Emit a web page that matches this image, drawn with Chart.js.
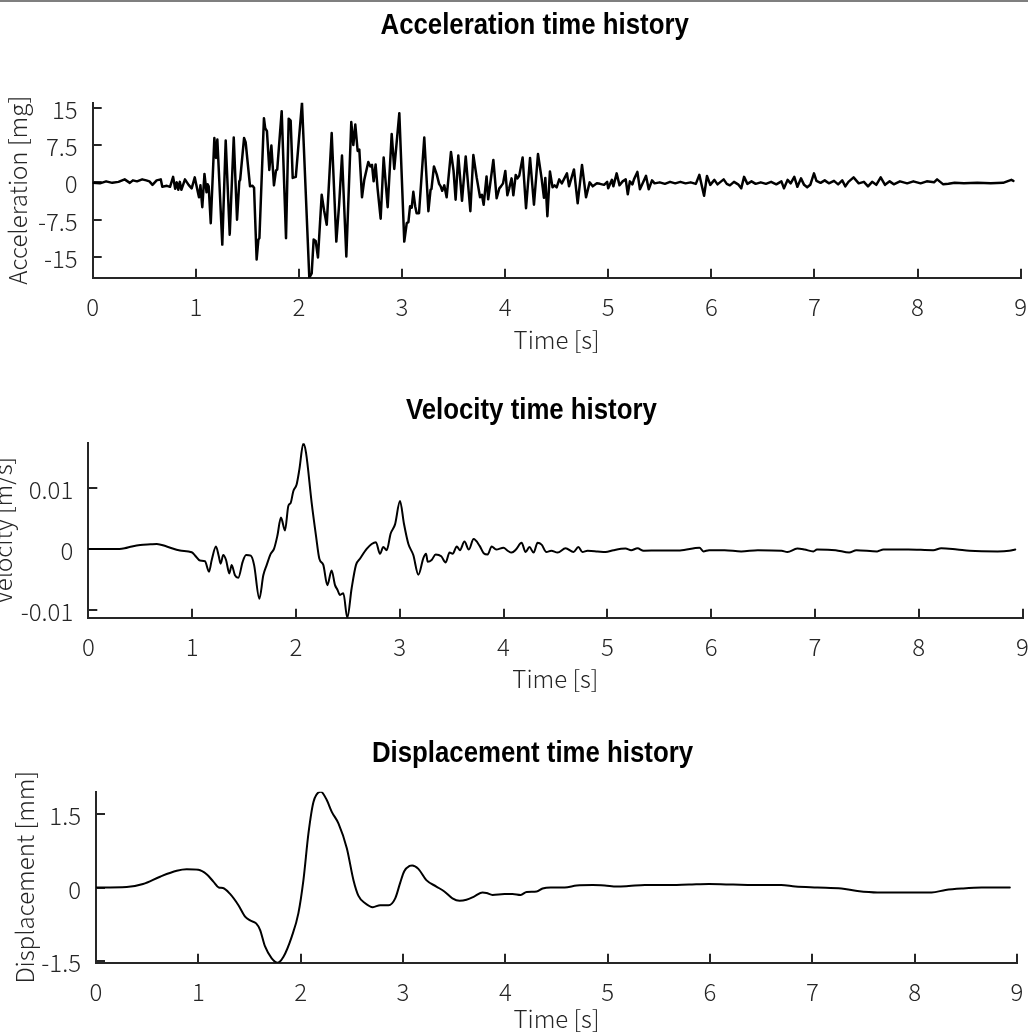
<!DOCTYPE html>
<html>
<head>
<meta charset="utf-8">
<script src="https://cdn.jsdelivr.net/npm/chart.js@4.4.1/dist/chart.umd.min.js"></script>
<style>
  html, body { margin: 0; padding: 0; background: #fff; overflow: hidden; }
  body { width: 1028px; height: 1033px; position: relative; }
  .frame-top { position: absolute; left: 0; top: 0; width: 1028px; height: 2px; background: #7f7f7f; }
  canvas { position: absolute; }
</style>
</head>
<body>
<div class="frame-top"></div>
<canvas id="acc" width="1028" height="360" style="left:0;top:0"></canvas>
<canvas id="vel" width="1040" height="340" style="left:-12px;top:360px"></canvas>
<canvas id="disp" width="1028" height="333" style="left:0;top:700px"></canvas>
<script>
// ---- Ground acceleration record [mg] ----
const accTime = [
  0.00, 0.07, 0.13, 0.19, 0.25, 0.31, 0.36, 0.39, 0.43, 0.48, 0.52, 0.55, 0.58, 0.62, 0.66, 0.675,
  0.72, 0.75, 0.78, 0.80, 0.815, 0.83, 0.845, 0.86, 0.895, 0.93, 0.96, 0.99, 1.015, 1.031, 1.045,
  1.063, 1.084, 1.104, 1.115, 1.125, 1.145, 1.18, 1.196, 1.209, 1.257, 1.29, 1.329, 1.368, 1.40,
  1.422, 1.43, 1.468, 1.484, 1.526, 1.55, 1.565, 1.59, 1.607, 1.617, 1.661, 1.673, 1.69, 1.713,
  1.733, 1.758, 1.778, 1.79, 1.833, 1.875, 1.901, 1.92, 1.94, 1.97, 2.03, 2.101, 2.124, 2.143,
  2.163, 2.185, 2.221, 2.244, 2.27, 2.318, 2.363, 2.39, 2.418, 2.46, 2.508, 2.528, 2.547, 2.57,
  2.586, 2.612, 2.634, 2.673, 2.693, 2.709, 2.725, 2.744, 2.763, 2.793, 2.822, 2.861, 2.90, 2.925,
  2.974, 3.022, 3.046, 3.062, 3.078, 3.094, 3.11, 3.128, 3.142, 3.165, 3.216, 3.256, 3.277, 3.286,
  3.31, 3.337, 3.36, 3.375, 3.39, 3.41, 3.433, 3.475, 3.50, 3.52, 3.546, 3.582, 3.618, 3.663,
  3.692, 3.724, 3.757, 3.775, 3.792, 3.82, 3.836, 3.886, 3.918, 3.944, 3.96, 3.98, 4.002, 4.022,
  4.04, 4.063, 4.08, 4.103, 4.12, 4.137, 4.17, 4.203, 4.242, 4.28, 4.319, 4.354, 4.377, 4.39,
  4.41, 4.435, 4.46, 4.48, 4.50, 4.525, 4.55, 4.60, 4.62, 4.668, 4.704, 4.746, 4.785, 4.82, 4.85,
  4.89, 4.92, 4.96, 4.99, 5.00, 5.036, 5.05, 5.082, 5.11, 5.14, 5.17, 5.19, 5.21, 5.235, 5.25,
  5.283, 5.308, 5.33, 5.367, 5.393, 5.425, 5.45, 5.50, 5.55, 5.60, 5.65, 5.70, 5.75, 5.80, 5.85,
  5.884, 5.93, 5.958, 5.99, 6.03, 6.06, 6.12, 6.15, 6.18, 6.22, 6.26, 6.29, 6.318, 6.35, 6.39,
  6.43, 6.48, 6.53, 6.58, 6.63, 6.68, 6.705, 6.74, 6.77, 6.805, 6.835, 6.87, 6.90, 6.93, 6.96,
  6.996, 7.02, 7.06, 7.10, 7.14, 7.19, 7.23, 7.27, 7.30, 7.33, 7.38, 7.43, 7.48, 7.52, 7.56, 7.60,
  7.643, 7.685, 7.73, 7.77, 7.83, 7.90, 7.96, 8.03, 8.09, 8.16, 8.19, 8.25, 8.30, 8.36, 8.45,
  8.58, 8.71, 8.83, 8.91, 8.93
];
const accValue = [
  -0.1, -0.2, 0.2, -0.1, 0.1, 0.6, -0.1, 0.4, 0.2, 0.6, 0.4, 0.2, -0.5, 0.4, 0.6, -0.9,
  -0.7, -0.9, 1.1, -1.3, 0.0, -1.5, 0.1, -1.5, 0.6, -0.5, -1.2, 1.0, -1.5, -3.0, -0.6,
  -5.0, 1.7, -2.0, -0.4, -0.8, -8.2, 8.9, 4.9, 8.6, -12.5, 8.4, -10.5, 9.0, -7.5,
  0.2, 0.5, 8.9, 8.0, -0.8, -0.7, -1.1, -15.5, -11.5, -11.2, 12.9, 10.9, 10.3, 2.5,
  7.4, -0.6, 2.4, 2.6, 14.3, -11.2, 12.8, 12.4, 0.9, 1.1, 16.0, -19.15, -18.3, -11.5,
  -11.8, -15.1, -2.5, -5.6, -8.5, 9.9, -11.9, -4.5, 5.4, -14.9, 12.1, 7.5, 11.6, 6.3,
  6.6, -3.0, 0.5, 4.1, 3.2, 3.5, 0.2, 3.6, -1.2, -7.3, 5.0, -5.0, 9.7, 2.7,
  13.9, -11.9, -8.2, -8.0, -4.8, -5.1, -1.9, -4.8, -6.2, -6.2, 9.0, -5.8, -1.5, -1.3,
  3.2, 1.6, -0.3, -0.8, -1.7, -0.6, -3.0, 6.1, 2.3, -3.5, 5.4, -3.7, 5.2, -5.8,
  5.5, 1.0, -3.0, -2.5, -4.5, 1.2, -3.4, 4.5, -3.2, -1.2, -0.8, -0.2, 2.3, -2.6,
  -1.2, 0.8, -2.6, 1.5, 0.8, 1.3, 5.0, -5.2, 4.9, -4.5, 5.7, 0.8, -3.1, 0.9,
  -6.8, 2.2, -1.0, -0.6, -1.0, 0.6, -0.2, 1.8, -0.8, 2.6, -4.2, 3.5, -3.0, 0.0, -0.8,
  -0.2, -0.3, -0.5, 0.1, -1.2, 0.5, -0.8, 1.8, -0.6, 0.2, 0.6, -2.4, 0.2, -0.4, 0.6,
  2.1, -1.4, -0.4, 1.3, -1.4, 0.4, -0.2, 0.0, -0.3, 0.1, -0.2, 0.1, -0.2, 0.0, -0.3,
  1.5, -2.7, 1.3, -0.5, 0.5, -0.4, 0.6, -0.3, -0.6, 0.1, -0.4, -1.2, 1.1, -0.3, 0.2,
  -0.3, 0.0, -0.3, 0.1, -0.4, 0.2, -1.2, 0.5, -0.2, 1.1, -0.9, 0.8, -0.5, -1.0, -0.5,
  1.8, 0.3, -0.1, 0.4, -0.2, 0.3, -0.4, 0.4, -0.8, 0.1, 1.0, -0.2, 0.1, -0.8, 0.1, -0.5,
  1.0, -0.5, 0.2, -0.4, 0.2, -0.2, 0.2, -0.2, 0.2, 0.0, 0.6, -0.4, -0.3, -0.1, -0.2,
  -0.1, -0.2, -0.1, 0.5, 0.3
];

// ---- Integrated velocity [m/s] ----
const velTime = [
  0, 0.30, 0.35, 0.42, 0.50, 0.60, 0.66, 0.755, 0.883, 0.996, 1.03, 1.076, 1.124, 1.163, 1.189, 1.23, 1.256,
  1.275, 1.30, 1.327, 1.359, 1.381, 1.413, 1.445, 1.487, 1.52, 1.565, 1.597, 1.648, 1.686, 1.719,
  1.757, 1.789, 1.821, 1.856, 1.895, 1.927, 1.95, 1.975, 2.007, 2.033, 2.072, 2.098, 2.152, 2.194,
  2.226, 2.264, 2.303, 2.344, 2.377, 2.399, 2.425, 2.457, 2.495, 2.537, 2.579, 2.617, 2.682, 2.73,
  2.771, 2.81, 2.842, 2.875, 2.913, 2.955, 3.003, 3.041, 3.083, 3.131, 3.18, 3.228, 3.254, 3.27,
  3.308, 3.347, 3.40, 3.443, 3.48, 3.51, 3.55, 3.58, 3.624, 3.666, 3.712, 3.77, 3.809, 3.847,
  3.886, 3.93, 4.00, 4.04, 4.078, 4.12, 4.174, 4.213, 4.25, 4.29, 4.328, 4.367, 4.413, 4.46,
  4.521, 4.598, 4.675, 4.721, 4.76, 4.81, 4.906, 4.983, 5.06, 5.176, 5.23, 5.291, 5.35, 5.50,
  5.70, 5.888, 5.926, 5.98, 6.13, 6.29, 6.45, 6.68, 6.735, 6.83, 6.90, 6.985, 7.02, 7.20, 7.33,
  7.40, 7.60, 7.66, 7.90, 8.14, 8.217, 8.37, 8.49, 8.76, 8.872, 8.93
];
const velValue = [
  0, 0, 0.0001, 0.0004, 0.00065, 0.00075, 0.0008, 0.0004, -0.00027, -0.00054, -0.0011, -0.0019, -0.002, -0.0037, -0.0018, 0.0004, -0.0011,
  -0.0024, -0.001, -0.0018, -0.004, -0.0026, -0.0043, -0.0047, -0.0021, -0.001, -0.0011, -0.0026, -0.0081, -0.0043, -0.0026,
  -0.0008, 0, 0.0021, 0.0051, 0.003, 0.007, 0.0075, 0.0094, 0.0105, 0.0129, 0.0172, 0.0156, 0.0075, 0.0021,
  -0.0016, -0.0026, -0.0059, -0.0035, -0.0059, -0.0066, -0.0075, -0.0072, -0.0112, -0.0064, -0.0026, -0.0016, 0, 0.0008,
  0.0011, -0.0008, 0.0003, -0.0002, 0.0025, 0.004, 0.0078, 0.0041, 0.00085, -0.001, -0.0042, -0.0015, -0.0008, -0.0021,
  -0.0018, -0.0009, -0.0012, -0.0022, -0.0006, -0.0008, 0.0004, -0.0002, 0.0012, -0.0001, 0.0016, 0.0005, -0.0007, -0.0009,
  0.0004, -0.0001, 0.0002, -0.0003, -0.0006, -0.0001, 0.001, -0.0005, 0.0003, -0.0006, 0.001, 0.0007, -0.0005, -0.0003,
  -0.0006, 0.0001, -0.0005, 0.0003, -0.0005, -0.0003, -0.0004, -0.0005, -0.0002, 0.00005, -0.0002, 0.0001, -0.0003, -0.00025,
  -0.00025, 0.0002, -0.0004, -0.0002, -0.0002, -0.0004, -0.0002, -0.0003, -0.0005, 0.00005, -0.0001, -0.0004, -0.0001, -0.0002, -0.0006,
  -0.0002, -0.0004, -0.0001, -0.0001, -0.0002, 0.0001, -0.0001, -0.0003, -0.0004, -0.0003, -0.0001
];

// ---- Integrated displacement [mm] ----
const dispTime = [
  0, 0.30, 0.46, 0.626, 0.789, 0.886, 1.0, 1.081, 1.147, 1.20, 1.24, 1.31, 1.392, 1.457, 1.506,
  1.565, 1.603, 1.652, 1.717, 1.776, 1.832, 1.913, 1.978, 2.027, 2.076, 2.125, 2.197, 2.255, 2.304,
  2.37, 2.451, 2.516, 2.565, 2.63, 2.705, 2.777, 2.859, 2.924, 2.973, 3.012, 3.064, 3.09, 3.15,
  3.228, 3.326, 3.404, 3.483, 3.553, 3.62, 3.698, 3.777, 3.816, 3.875, 3.992, 4.07, 4.15, 4.208,
  4.306, 4.364, 4.443, 4.58, 4.697, 4.854, 4.972, 5.09, 5.207, 5.364, 5.56, 5.795, 5.99, 6.226,
  6.42, 6.696, 6.833, 7.049, 7.284, 7.44, 7.636, 7.871, 8.165, 8.302, 8.459, 8.655, 8.93
];
const dispValue = [
  0, 0.01, 0.07, 0.22, 0.34, 0.37, 0.36, 0.27, 0.12, 0.0, -0.01, -0.13, -0.36, -0.59, -0.67,
  -0.73, -0.86, -1.2, -1.44, -1.53, -1.41, -1.0, -0.52, 0.15, 1.1, 1.74, 1.95, 1.78, 1.54,
  1.3, 0.8, 0.15, -0.17, -0.32, -0.40, -0.36, -0.36, -0.22, 0.1, 0.33, 0.44, 0.45, 0.38,
  0.15, 0.02, -0.08, -0.22, -0.27, -0.25, -0.18, -0.1, -0.11, -0.15, -0.13, -0.13, -0.15, -0.09,
  -0.08, -0.02, 0.0, 0.0, 0.04, 0.05, 0.04, 0.02, 0.03, 0.05, 0.05, 0.06, 0.07, 0.06,
  0.05, 0.05, 0.02, 0.0, -0.02, -0.07, -0.1, -0.1, -0.1, -0.05, -0.02, 0.0, 0.0
];

// ---- Axis ticks ----
const timeTicks = [0, 1, 2, 3, 4, 5, 6, 7, 8, 9];
const accTicks = [-15, -7.5, 0, 7.5, 15];
const velTicks = [-0.01, 0, 0.01];
const dispTicks = [-1.5, 0, 1.5];

const INK = '#262626';
const labelFont = { family: '"Noto Sans CJK JP", "Noto Sans", sans-serif', size: 24, weight: '300' };
const headingFont = 'bold 30px "Liberation Sans", Arial, sans-serif';

// Bold, condensed heading drawn above each subplot
const headingPlugin = {
  id: 'heading',
  afterDraw(chart, args, opts) {
    const ctx = chart.ctx;
    const area = chart.chartArea;
    ctx.save();
    ctx.font = headingFont;
    ctx.fillStyle = '#000';
    ctx.textAlign = 'center';
    ctx.textBaseline = 'alphabetic';
    ctx.translate((area.left + area.right) / 2 + opts.dx, opts.baseline);
    ctx.scale(0.86, 1);
    ctx.fillText(opts.text, 0, 0);
    ctx.restore();
  }
};

function tickList(values) {
  return scale => { scale.ticks = values.map(v => ({ value: v })); };
}

function makePlot(id, cfg) {
  const points = cfg.time.map((t, i) => ({ x: t, y: cfg.values[i] }));
  return new Chart(document.getElementById(id), {
    type: 'line',
    data: {
      datasets: [{
        data: points,
        borderColor: '#000',
        borderWidth: cfg.lineWidth,
        pointRadius: 0,
        fill: false,
        tension: 0,
        cubicInterpolationMode: cfg.smooth ? 'monotone' : 'default',
        borderJoinStyle: 'round',
        borderCapStyle: 'round'
      }]
    },
    options: {
      responsive: false,
      devicePixelRatio: 1,
      animation: false,
      events: [],
      layout: { padding: cfg.padding },
      plugins: {
        legend: { display: false },
        tooltip: { enabled: false },
        heading: { text: cfg.title, dx: cfg.titleDx, baseline: cfg.titleBaseline }
      },
      scales: {
        x: {
          type: 'linear',
          min: 0,
          max: 9,
          afterBuildTicks: tickList(timeTicks),
          afterFit: s => { s.height = cfg.xHeight; s.paddingLeft = 0; s.paddingRight = 0; },
          ticks: { callback: v => String(v), font: labelFont, color: INK, padding: 23.4, maxRotation: 0, autoSkip: false },
          grid: { drawOnChartArea: false, drawTicks: true, tickLength: -9, color: INK, lineWidth: 2 },
          border: { display: true, color: INK, width: 2 },
          title: { display: true, text: 'Time [s]', font: labelFont, color: INK, padding: { top: 0, bottom: cfg.xTitlePad } }
        },
        y: {
          type: 'linear',
          position: 'left',
          min: cfg.yMin,
          max: cfg.yMax,
          afterBuildTicks: tickList(cfg.yTicks),
          afterFit: s => { s.width = cfg.yWidth; s.paddingTop = 0; s.paddingBottom = 0; },
          ticks: { callback: v => String(v), font: labelFont, color: INK, padding: 24, labelOffset: 2, autoSkip: false },
          grid: { drawOnChartArea: false, drawTicks: true, tickLength: -9, color: INK, lineWidth: 2 },
          border: { display: true, color: INK, width: 2 },
          title: { display: true, text: cfg.yTitle, font: labelFont, color: INK, padding: { top: cfg.yTitlePad, bottom: 0 } }
        }
      }
    },
    plugins: [headingPlugin]
  });
}

makePlot('acc', {
  time: accTime, values: accValue, yMin: -19.15, yMax: 16.0, yTicks: accTicks,
  yTitle: 'Acceleration [mg]', title: 'Acceleration time history', titleDx: -22, titleBaseline: 34,
  padding: { top: 102.7, right: 7.4, bottom: 0, left: 0 }, yWidth: 92.7, xHeight: 82.3,
  xTitlePad: 5.6, yTitlePad: 3.1, lineWidth: 2.5, smooth: false
});

makePlot('vel', {
  time: velTime, values: velValue, yMin: -0.0112, yMax: 0.0172, yTicks: velTicks,
  yTitle: 'Velocity [m/s]', title: 'Velocity time history', titleDx: -24, titleBaseline: 59,
  padding: { top: 83.3, right: 5.5, bottom: 0, left: 0 }, yWidth: 100.3, xHeight: 82.3,
  xTitlePad: 6.6, yTitlePad: 0.6, lineWidth: 2, smooth: true
});

makePlot('disp', {
  time: dispTime, values: dispValue, yMin: -1.53, yMax: 1.95, yTicks: dispTicks,
  yTitle: 'Displacement [mm]', title: 'Displacement time history', titleDx: -24, titleBaseline: 62,
  padding: { top: 91.7, right: 11, bottom: 0, left: 0 }, yWidth: 96, xHeight: 70.3,
  xTitlePad: 0, yTitlePad: 10, lineWidth: 2, smooth: true
});
</script>
</body>
</html>
